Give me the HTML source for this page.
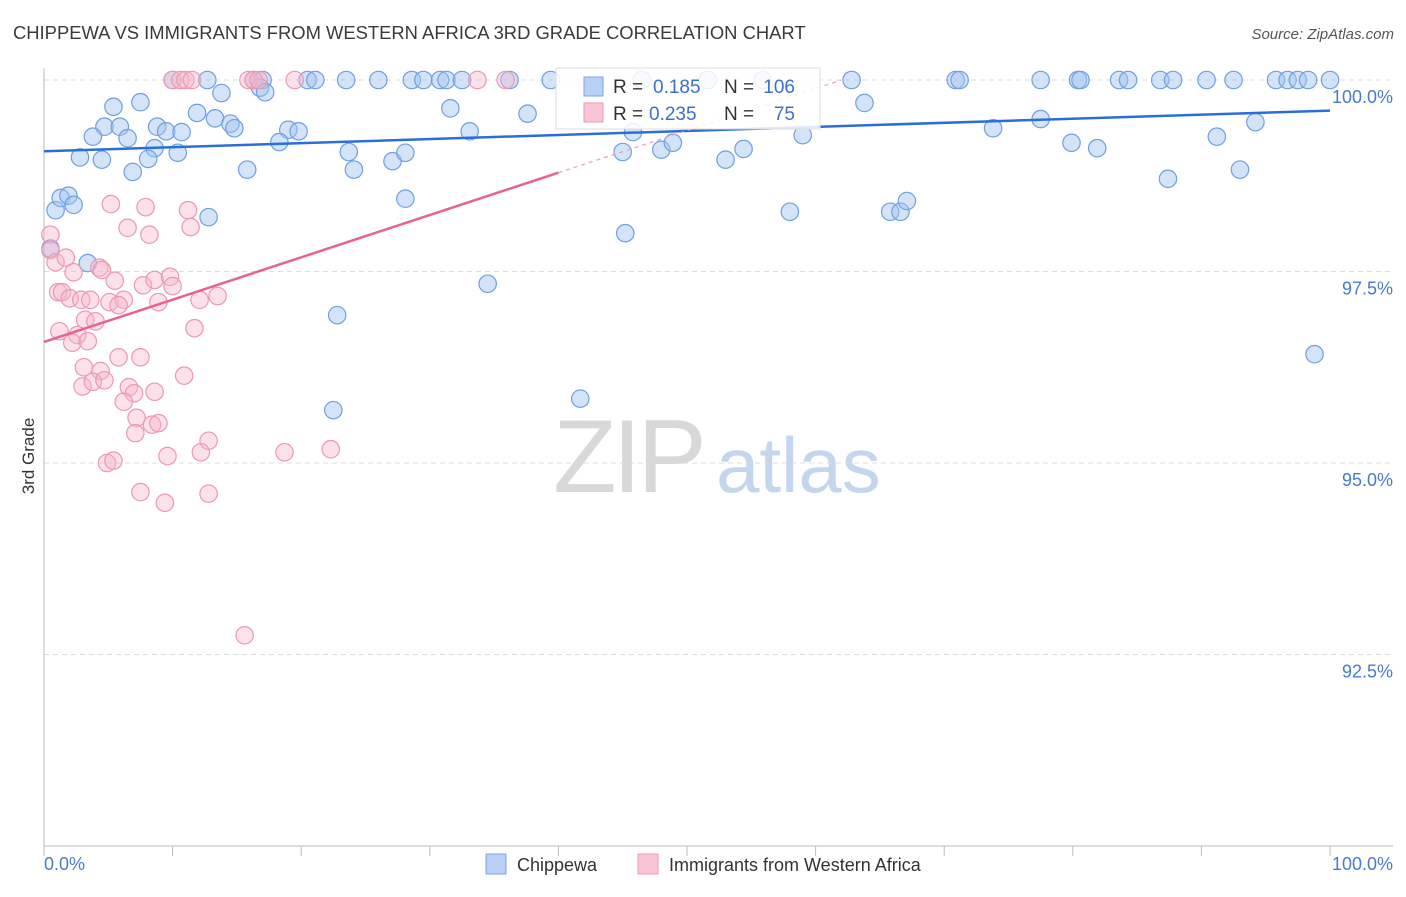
<!DOCTYPE html>
<html><head><meta charset="utf-8"><style>
body{margin:0;background:#fff;font-family:"Liberation Sans",sans-serif;}
svg text{font-family:"Liberation Sans",sans-serif;}
</style></head><body>
<svg id="chart" width="1406" height="892" xmlns="http://www.w3.org/2000/svg">
<text x="13" y="39" font-size="18.4" fill="#3a3a3a">CHIPPEWA VS IMMIGRANTS FROM WESTERN AFRICA 3RD GRADE CORRELATION CHART</text>
<text x="1394" y="39" font-size="15" fill="#555" text-anchor="end" font-style="italic">Source: ZipAtlas.com</text>
<text transform="translate(34,456) rotate(-90)" font-size="17" fill="#333" text-anchor="middle">3rd Grade</text>
<g>
<text x="553" y="492" font-size="104" fill="#d8d8d8" font-family="Liberation Serif,serif" letter-spacing="-4">ZIP</text>
<text x="716" y="492" font-size="78" fill="#c4d6ee">atlas</text>
</g>
<g id="grid"></g><g id="axes"></g><g id="marks"></g><g id="lines"></g>
<g>
<rect x="556" y="68" width="264" height="61" fill="#fff" fill-opacity="0.85" stroke="#ddd"/>
<rect x="584" y="77" width="19" height="19" fill="#b7d0f3" stroke="#7ba5e3"/>
<rect x="584" y="103" width="19" height="19" fill="#f9c4d4" stroke="#ec9ab4"/>
<text x="613" y="93" font-size="19" fill="#333">R =</text>
<text x="653" y="93" font-size="19" fill="#3a6fd0">0.185</text>
<text x="724" y="93" font-size="19" fill="#333">N =</text>
<text x="795" y="93" font-size="19" fill="#3a6fd0" text-anchor="end">106</text>
<text x="613" y="120" font-size="19" fill="#333">R =</text>
<text x="649" y="120" font-size="19" fill="#3a6fd0">0.235</text>
<text x="724" y="120" font-size="19" fill="#333">N =</text>
<text x="795" y="120" font-size="19" fill="#3a6fd0" text-anchor="end">75</text>
</g>
<g>
<rect x="486" y="854" width="20" height="20" fill="#b7d0f3" stroke="#7ba5e3"/>
<text x="517" y="871" font-size="18" fill="#333">Chippewa</text>
<rect x="638" y="854" width="20" height="20" fill="#f9c4d4" stroke="#ec9ab4"/>
<text x="669" y="871" font-size="18" fill="#333">Immigrants from Western Africa</text>
</g>
</svg>
<script>
const yTicks=[100,97.5,95,92.5];
const yTickLabels=["100.0%","97.5%","95.0%","92.5%"];
const xTickLabels=["0.0%","100.0%"];
const blueX=[10.0,12.7,16.3,17.0,20.5,21.1,23.5,26.0,28.6,29.5,30.8,31.3,32.5,36.2,39.4,46.5,51.6,55.9,62.8,70.9,71.2,77.5,80.4,80.6,83.6,84.3,86.8,87.8,90.4,92.5,95.8,96.7,97.5,98.3,100,
13.8,16.8,17.2,5.4,7.5,11.9,13.3,14.5,14.8,4.7,5.9,8.8,9.5,10.7,3.8,6.5,19.0,19.8,18.3,8.6,10.4,2.8,4.5,8.1,6.9,15.8,23.7,27.1,28.1,24.1,31.6,33.1,37.6,45.8,45.0,48.0,48.9,53.0,54.4,59.0,63.8,73.8,77.5,79.9,81.9,91.2,94.2,87.4,93.0,0.9,1.3,1.9,2.3,12.8,28.1,58.0,65.8,66.6,67.1,45.2,3.4,0.5,34.5,22.8,98.8,41.7,22.5];
const blueY=[100,100,100,100,100,100,100,100,100,100,100,100,100,100,100,100,100,100,100,100,100,100,100,100,100,100,100,100,100,100,100,100,100,100,100,
99.83,99.9,99.84,99.65,99.71,99.57,99.5,99.43,99.37,99.39,99.39,99.39,99.33,99.32,99.26,99.24,99.35,99.33,99.19,99.11,99.05,98.99,98.96,98.97,98.8,98.83,99.06,98.94,99.05,98.83,99.63,99.33,99.56,99.32,99.06,99.09,99.18,98.96,99.1,99.28,99.7,99.37,99.49,99.18,99.11,99.26,99.45,98.71,98.83,98.3,98.46,98.49,98.37,98.21,98.45,98.28,98.28,98.28,98.42,98.0,97.61,97.8,97.34,96.93,96.42,95.84,95.69];
const pinkX=[10.0,10.6,11.0,11.5,15.9,16.3,16.7,19.5,33.7,35.9,5.2,7.9,11.2,6.5,8.2,11.4,0.5,0.5,0.9,1.7,2.3,4.3,4.5,5.5,1.1,1.4,2.0,2.9,3.6,5.1,6.2,5.8,7.7,8.6,9.8,10.0,8.9,12.1,13.5,1.2,3.2,4.0,2.6,2.2,3.4,11.7,5.8,7.5,3.1,4.4,3.0,3.8,4.7,10.9,6.6,7.0,8.6,6.2,7.2,8.4,8.9,7.1,12.8,12.2,9.6,18.7,22.3,4.9,5.4,7.5,9.4,12.8,15.6];
const pinkY=[100,100,100,100,100,100,100,100,100,100,98.38,98.34,98.3,98.07,97.98,98.08,97.98,97.78,97.62,97.68,97.49,97.55,97.52,97.38,97.23,97.23,97.15,97.13,97.13,97.1,97.13,97.06,97.32,97.39,97.43,97.31,97.1,97.13,97.18,96.72,96.87,96.85,96.67,96.57,96.59,96.76,96.38,96.38,96.25,96.2,96.0,96.06,96.08,96.14,95.99,95.91,95.93,95.8,95.59,95.5,95.52,95.39,95.29,95.14,95.09,95.14,95.18,95.0,95.03,94.62,94.48,94.6,92.75];
const blueLine=[99.07,99.6];
const pinkLine=[96.58,98.79,100.0];
const pinkLineX=[0,40,62];

const NS="http://www.w3.org/2000/svg";
const X0=44,X1=1330,YTOP=80,YPX=76.6;
const sx=v=>X0+(X1-X0)*v/100;
const sy=v=>YTOP+(100-v)*YPX;
function mk(tag,attrs,parent){const e=document.createElementNS(NS,tag);for(const k in attrs)e.setAttribute(k,attrs[k]);parent.appendChild(e);return e;}
const grid=document.getElementById('grid'),axes=document.getElementById('axes'),marks=document.getElementById('marks'),lines=document.getElementById('lines');
yTicks.forEach((t,i)=>{
  const l=mk('line',{x1:X0,x2:1393,y1:sy(t),y2:sy(t),stroke:'#ddd','stroke-dasharray':'5,4'},grid);
  
  
  const tx=mk('text',{x:1393,y:sy(t)+23,'font-size':18,fill:'#4a7ad0','text-anchor':'end'},axes);
  tx.textContent=yTickLabels[i];
  
  
});
const ax=mk('line',{x1:X0,x2:X0,y1:68,y2:sy(90),stroke:'#bbb'},axes);


const bx=mk('line',{x1:X0,x2:1393,y1:sy(90),y2:sy(90),stroke:'#bbb'},axes);


for(let i=0;i<=10;i++){
  const t=mk('line',{x1:sx(i*10),x2:sx(i*10),y1:sy(90),y2:sy(90)+10,stroke:'#bbb'},axes);
  
  
}
const xl0=mk('text',{x:X0,y:870,'font-size':18,fill:'#4a7ad0'},axes);xl0.textContent=xTickLabels[0];


const xl1=mk('text',{x:1393,y:870,'font-size':18,fill:'#4a7ad0','text-anchor':'end'},axes);xl1.textContent=xTickLabels[1];


blueX.forEach((v,i)=>{
  const c=mk('circle',{cx:sx(v),cy:sy(blueY[i]),r:8.7,fill:'rgba(160,196,240,0.45)',stroke:'#6f9fe2','stroke-width':1.2},marks);
  
  
});
pinkX.forEach((v,i)=>{
  const c=mk('circle',{cx:sx(v),cy:sy(pinkY[i]),r:8.7,fill:'rgba(247,180,202,0.4)',stroke:'#ec98b3','stroke-width':1.2},marks);
  
  
});
const bl=mk('line',{x1:sx(0),y1:sy(blueLine[0]),x2:sx(100),y2:sy(blueLine[1]),stroke:'#2a6fd6','stroke-width':2.5},lines);


const pl=mk('line',{x1:sx(pinkLineX[0]),y1:sy(pinkLine[0]),x2:sx(pinkLineX[1]),y2:sy(pinkLine[1]),stroke:'#e8628e','stroke-width':2.5},lines);


const pd=mk('line',{x1:sx(pinkLineX[1]),y1:sy(pinkLine[1]),x2:sx(pinkLineX[2]),y2:sy(pinkLine[2]),stroke:'#eaa0b8','stroke-width':1.2,'stroke-dasharray':'4,4'},lines);


</script>
</body></html>
